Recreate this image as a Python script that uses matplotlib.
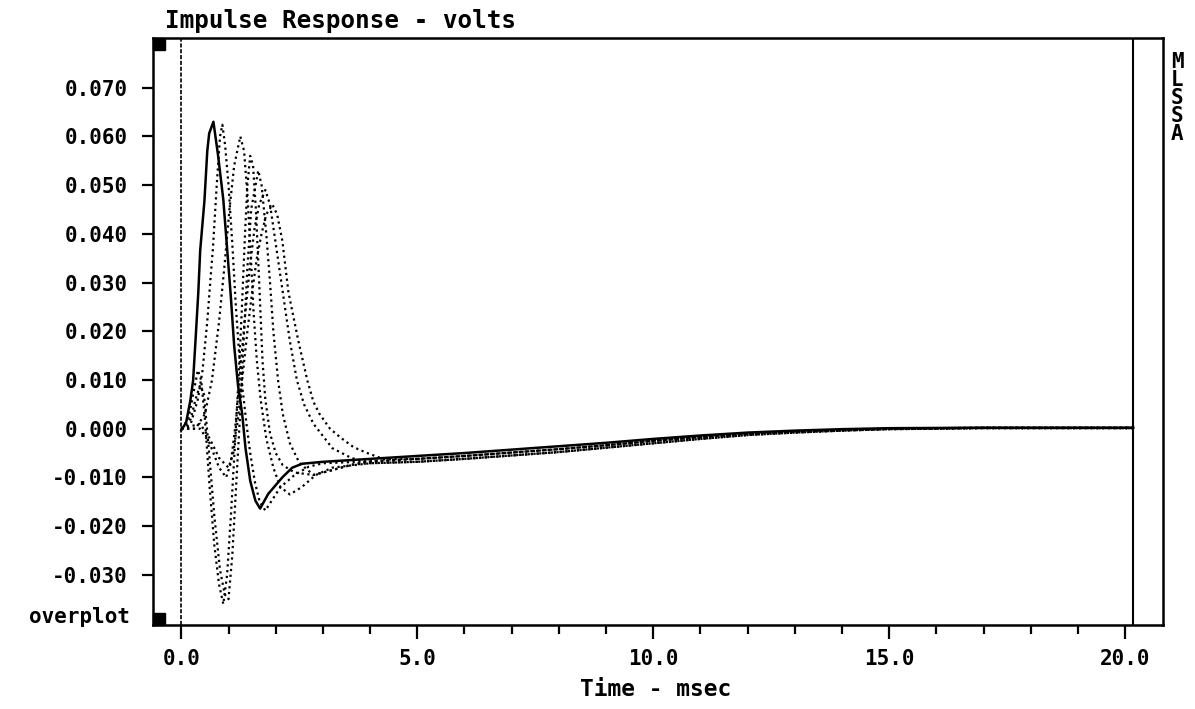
import numpy as np
import matplotlib
matplotlib.use("Agg")
import matplotlib.pyplot as plt
from matplotlib.patches import Rectangle

plt.rcParams['font.family'] = ['DejaVu Sans Mono', 'DejaVu Sans']
plt.rcParams['font.weight'] = 'bold'

# solid trace (msec, volts)
solidT = [0.0, 0.1, 0.19, 0.25, 0.30, 0.36, 0.40, 0.49, 0.55, 0.59, 0.68, 0.78, 0.89, 0.97,
          1.05, 1.12, 1.2, 1.29, 1.36, 1.46, 1.57, 1.67, 1.84, 2.14, 2.35, 2.56]
solidV = [-0.0003, 0.0012, 0.0057, 0.0099, 0.018, 0.028, 0.0366, 0.0468, 0.057, 0.0606, 0.063, 0.056, 0.047, 0.037,
          0.027, 0.017, 0.009, 0.003, -0.004, -0.0107, -0.0148, -0.0164, -0.0134, -0.010, -0.008, -0.0072]

# overplotted dotted traces
dot1T = [0.0, 0.2, 0.35, 0.45, 0.55, 0.62, 0.67, 0.75, 0.82, 0.87, 0.93, 1.0, 1.08, 1.15, 1.22,
         1.3, 1.38, 1.46, 1.56, 1.66, 1.78, 1.9, 2.1, 2.4, 2.7]
dot1V = [0.0, 0.001, 0.006, 0.012, 0.022, 0.031, 0.037, 0.050, 0.060, 0.0624, 0.058, 0.050, 0.038, 0.026, 0.016,
         0.008, 0.001, -0.005, -0.011, -0.015, -0.0168, -0.015, -0.012, -0.0095, -0.0078]

dot2T = [0.0, 0.3, 0.5, 0.65, 0.8, 0.92, 1.02, 1.12, 1.25, 1.33, 1.40, 1.47, 1.53, 1.6, 1.68,
         1.8, 1.95, 2.1, 2.3, 2.55, 2.85, 3.2]
dot2V = [0.0, 0.0, 0.003, 0.010, 0.022, 0.034, 0.045, 0.054, 0.060, 0.057, 0.048, 0.036, 0.024, 0.014, 0.006,
         -0.002, -0.008, -0.012, -0.0135, -0.012, -0.0095, -0.008]

dot3T = [0.0, 0.15, 0.25, 0.35, 0.42, 0.5, 0.6, 0.7, 0.8, 0.89, 0.97, 1.05, 1.12, 1.2, 1.28,
         1.35, 1.4, 1.46, 1.52, 1.58, 1.65, 1.72, 1.78, 1.88, 2.0, 2.15, 2.4, 2.8, 3.2, 3.6]
dot3V = [0.0, 0.002, 0.007, 0.012, 0.010, 0.002, -0.012, -0.024, -0.032, -0.036, -0.030, -0.018, -0.006, 0.008, 0.024,
         0.040, 0.050, 0.056, 0.054, 0.045, 0.030, 0.014, 0.006, -0.001, -0.005, -0.0075, -0.009, -0.0095, -0.0085, -0.0074]

dot4T = [0.0, 0.2, 0.3, 0.4, 0.48, 0.58, 0.7, 0.82, 0.92, 1.0, 1.08, 1.16, 1.24, 1.32, 1.4,
         1.48, 1.63, 1.7, 1.8, 1.88, 1.95, 2.05, 2.15, 2.3, 2.5, 2.8, 3.2, 3.7]
dot4V = [0.0, 0.002, 0.006, 0.009, 0.007, -0.004, -0.018, -0.029, -0.034, -0.035, -0.026, -0.012, 0.002, 0.018, 0.033,
         0.045, 0.053, 0.050, 0.040, 0.030, 0.020, 0.0099, 0.003, -0.003, -0.007, -0.0095, -0.0085, -0.0072]

dot5T = [0.0, 0.4, 0.6, 0.8, 0.95, 1.05, 1.15, 1.25, 1.35, 1.45, 1.55, 1.65, 1.78, 1.88, 2.0,
         2.15, 2.3, 2.45, 2.6, 2.8, 3.0, 3.2, 3.6, 4.0]
dot5V = [0.0, 0.0, -0.003, -0.008, -0.010, -0.007, 0.001, 0.012, 0.023, 0.033, 0.041, 0.046, 0.049, 0.046, 0.038,
         0.028, 0.018, 0.0099, 0.005, 0.001, -0.0015, -0.004, -0.006, -0.0070]

dot6T = [0.0, 0.4, 0.6, 0.8, 1.0, 1.1, 1.2, 1.3, 1.4, 1.5, 1.6, 1.7, 1.8, 1.93, 2.03,
         2.14, 2.27, 2.48, 2.67, 2.8, 2.93, 3.15, 3.37, 3.65, 3.94, 4.3]
dot6V = [0.0, 0.001, -0.002, -0.006, -0.008, -0.005, 0.002, 0.011, 0.020, 0.028, 0.035, 0.040, 0.044, 0.046, 0.044,
         0.0386, 0.028, 0.018, 0.0099, 0.0055, 0.003, 0.0, -0.0018, -0.0038, -0.005, -0.0063]

# slow decay: upper, middle and lower edge of the overplotted band
tailT = [3.0, 4.0, 5.0, 6.0, 7.0, 8.0, 9.0, 10.0, 11.0, 12.0, 13.0, 14.0, 15.0, 17.0, 20.17]
tailUpV = [-0.0068, -0.0062, -0.0056, -0.0050, -0.0043, -0.0036, -0.0029, -0.0021, -0.0014, -0.0008,
           -0.0004, -0.0001, 0.0001, 0.0002, 0.0002]
tailMidV = [-0.0071, -0.0067, -0.0062, -0.0056, -0.0049, -0.0042, -0.0034, -0.0025, -0.0017, -0.0010,
            -0.0006, -0.0003, 0.0, 0.0002, 0.0002]
tailLowV = [-0.0074, -0.0071, -0.0068, -0.0062, -0.0055, -0.0048, -0.0039, -0.0030, -0.0021, -0.0013,
            -0.0008, -0.0004, -0.0001, 0.0001, 0.0001]

xMajor = [0.0, 5.0, 10.0, 15.0, 20.0]
xLabels = ["0.0", "5.0", "10.0", "15.0", "20.0"]
yMajor = [-0.03, -0.02, -0.01, 0.0, 0.01, 0.02, 0.03, 0.04, 0.05, 0.06, 0.07]
yLabels = ["-0.030", "-0.020", "-0.010", "0.000", "0.010", "0.020", "0.030", "0.040", "0.050", "0.060", "0.070"]
dataEnd = 20.17


def withTail(t, v, tail):
    tt = list(t) + [a for a in tailT if a > t[-1]]
    vv = list(v) + [b for a, b in zip(tailT, tail) if a > t[-1]]
    return tt, vv


fig = plt.figure(figsize=(11.95, 7.09), dpi=100)
ax = fig.add_axes([153/1195, 1-625/709, 1010/1195, 587/709])

dotted = [(dot1T, dot1V, tailMidV), (dot2T, dot2V, tailLowV), (dot3T, dot3V, tailLowV),
          (dot4T, dot4V, tailMidV), (dot5T, dot5V, tailLowV), (dot6T, dot6V, tailMidV)]
for t, v, tail in dotted:
    tt, vv = withTail(t, v, tail)
    ax.plot(tt, vv, color='black', lw=1.6, linestyle=(0, (1, 1.6)))

tt, vv = withTail(solidT, solidV, tailUpV)
ax.plot(tt, vv, color='black', lw=1.8)

ax.axvline(0.0, color='black', lw=1.2, linestyle=(0, (2.5, 1)))
ax.axvline(dataEnd, color='black', lw=1.5)

ax.set_xlim(-0.6, 20.8)
ax.set_ylim(-0.0403, 0.0802)

ax.set_xticks(xMajor)
ax.set_xticklabels(xLabels)
ax.set_xticks(np.arange(1, 21), minor=True)
ax.set_yticks(yMajor)
ax.set_yticklabels(yLabels)
ax.tick_params(axis='x', which='major', length=10, width=1.6, pad=7, labelsize=15, direction='out')
ax.tick_params(axis='x', which='minor', length=6.5, width=1.6, direction='out')
ax.tick_params(axis='y', which='major', length=8, width=1.6, pad=10, labelsize=15, direction='out')
for lab in ax.get_xticklabels() + ax.get_yticklabels():
    lab.set_fontweight('bold')

for s in ax.spines.values():
    s.set_linewidth(1.8)

# little filled corner blocks
sqW, sqH = 12/1010, 12/587
ax.add_patch(Rectangle((0, 1-sqH), sqW, sqH, transform=ax.transAxes, color='black', clip_on=False))
ax.add_patch(Rectangle((0, 0), sqW, sqH, transform=ax.transAxes, color='black', clip_on=False))

fig.text(165/1195, 1-28/709, "Impulse Response - volts", fontsize=17.5, fontweight='bold', ha='left', va='baseline')
fig.text(656/1195, 1-690/709, "Time - msec", fontsize=16.5, fontweight='bold', ha='center', va='center')
fig.text(130/1195, 1-617/709, "overplot", fontsize=15, fontweight='bold', ha='right', va='center')
for i, ch in enumerate("MLSSA"):
    fig.text(1177/1195, 1-(62+18*i)/709, ch, fontsize=15, fontweight='bold', ha='center', va='center')

fig.savefig("out.png", dpi=100, facecolor='white')
